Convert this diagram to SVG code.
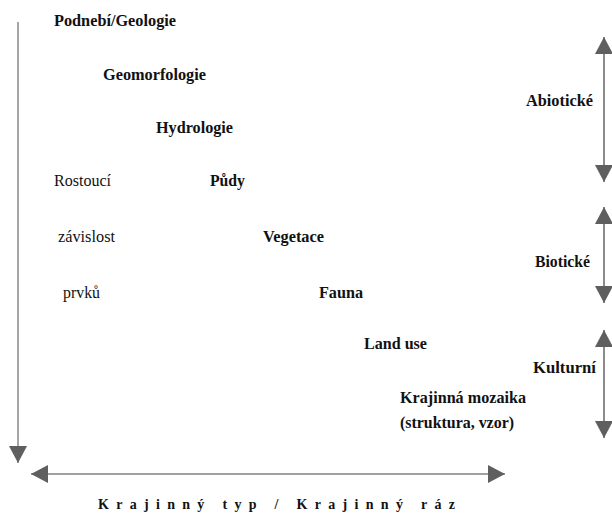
<svg xmlns="http://www.w3.org/2000/svg" width="612" height="513" viewBox="0 0 612 513">
<style>
.t{font-family:"Liberation Serif","Times New Roman",serif;font-size:16px;fill:#111}
.b{font-weight:bold}
.ax{stroke:#808080;stroke-width:1.4;fill:none}
.ax2{stroke:#666;stroke-width:1.5;fill:none}
</style>
<defs>
<marker id="ah" markerUnits="userSpaceOnUse" markerWidth="18" markerHeight="18" refX="17" refY="9" orient="auto-start-reverse" viewBox="0 0 18 18">
<path d="M0,0 L17,9 L0,18 z" fill="#5f5f5f"/>
</marker>
</defs>
<rect width="612" height="513" fill="#fff"/>
<g id="connectors">
<line class="ax" x1="18" y1="22" x2="18" y2="463" marker-end="url(#ah)"/>
<line class="ax" x1="31" y1="474" x2="505" y2="474" marker-start="url(#ah)" marker-end="url(#ah)"/>
<line class="ax2" x1="604" y1="37" x2="604" y2="182" marker-start="url(#ah)" marker-end="url(#ah)"/>
<line class="ax2" x1="604" y1="207" x2="604" y2="303" marker-start="url(#ah)" marker-end="url(#ah)"/>
<line class="ax2" x1="604" y1="330" x2="604" y2="438" marker-start="url(#ah)" marker-end="url(#ah)"/>
</g>
<g id="podnebi"><text class="t b" x="54" y="26" textLength="122" lengthAdjust="spacingAndGlyphs">Podnebí/Geologie</text></g>
<g id="geomorfologie"><text class="t b" x="103" y="80" textLength="103" lengthAdjust="spacingAndGlyphs">Geomorfologie</text></g>
<g id="hydrologie"><text class="t b" x="156" y="133" textLength="77" lengthAdjust="spacingAndGlyphs">Hydrologie</text></g>
<g id="pudy"><text class="t b" x="210" y="186" textLength="35" lengthAdjust="spacingAndGlyphs">Půdy</text></g>
<g id="vegetace"><text class="t b" x="263" y="242" textLength="61" lengthAdjust="spacingAndGlyphs">Vegetace</text></g>
<g id="fauna"><text class="t b" x="319" y="298" textLength="44" lengthAdjust="spacingAndGlyphs">Fauna</text></g>
<g id="landuse"><text class="t b" x="364" y="349" textLength="63" lengthAdjust="spacingAndGlyphs">Land use</text></g>
<g id="mozaika">
<text class="t b" x="400" y="403" textLength="126" lengthAdjust="spacingAndGlyphs">Krajinná mozaika</text>
<text class="t b" x="400" y="428" textLength="114" lengthAdjust="spacingAndGlyphs">(struktura, vzor)</text>
</g>
<g id="rostouci">
<text class="t" x="54" y="186" textLength="57" lengthAdjust="spacingAndGlyphs">Rostoucí</text>
<text class="t" x="58" y="242" textLength="57" lengthAdjust="spacingAndGlyphs">závislost</text>
<text class="t" x="63" y="298" textLength="37" lengthAdjust="spacingAndGlyphs">prvků</text>
</g>
<g id="abioticke"><text class="t b" x="526" y="106" textLength="67" lengthAdjust="spacingAndGlyphs">Abiotické</text></g>
<g id="bioticke"><text class="t b" x="535" y="267" textLength="55" lengthAdjust="spacingAndGlyphs">Biotické</text></g>
<g id="kulturni"><text class="t b" x="533" y="373" textLength="63" lengthAdjust="spacingAndGlyphs">Kulturní</text></g>
<g id="krajinny-typ"><text class="t b" x="98" y="509" style="font-size:14px" textLength="357" lengthAdjust="spacing">Krajinný typ / Krajinný ráz</text></g>
</svg>
